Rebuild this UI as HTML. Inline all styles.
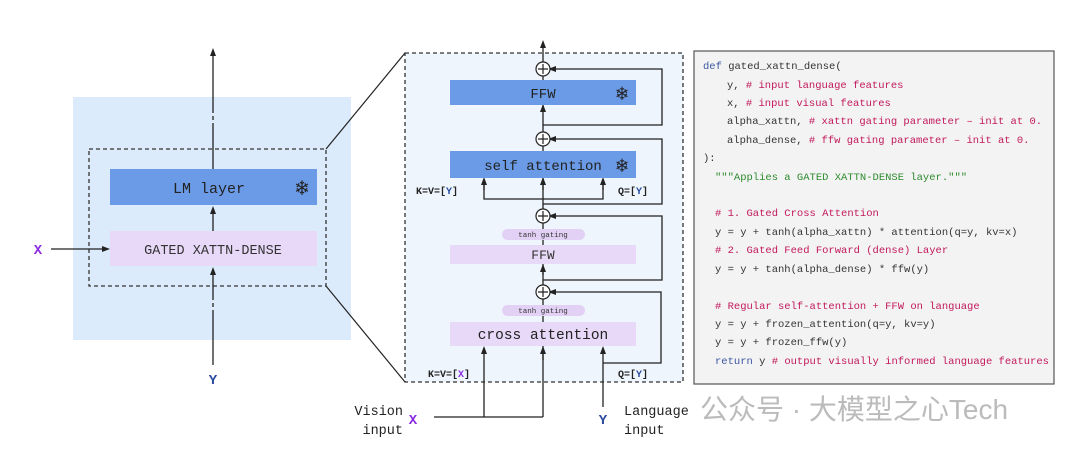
<!DOCTYPE html>
<html><head><meta charset="utf-8"><style>
body{margin:0;background:#fff;width:1080px;height:449px;overflow:hidden}
svg text{font-family:"Liberation Mono","DejaVu Sans Mono",monospace}
</style></head><body>
<svg width="1080" height="449" viewBox="0 0 1080 449" xmlns="http://www.w3.org/2000/svg">
<defs><marker id="a" markerWidth="8" markerHeight="8" refX="4" refY="4" orient="auto" markerUnits="userSpaceOnUse"><path d="M0,1 L8,4 L0,7 z" fill="#222"/></marker></defs>
<!-- left -->
<rect x="73" y="97" width="278" height="243" fill="#dcebfb"/>
<rect x="89" y="149" width="237" height="137" fill="none" stroke="#333" stroke-dasharray="4,3" stroke-width="1.3"/>
<rect x="110" y="169" width="207" height="36" fill="#6b9be6"/>
<text x="209" y="193" font-size="15" text-anchor="middle" fill="#222">LM layer</text>
<text x="302" y="195" font-size="22" text-anchor="middle" fill="#222">❄</text>
<rect x="110" y="231" width="207" height="35" fill="#e8d9f8"/>
<text x="213" y="254" font-size="13.5" text-anchor="middle" fill="#333">GATED XATTN-DENSE</text>
<line x1="213" y1="128" x2="213" y2="52" stroke="#222" stroke-width="1.3" marker-end="url(#a)"/>
<line x1="213" y1="113" x2="213" y2="116" stroke="#dcebfb" stroke-width="3"/>
<line x1="213" y1="120" x2="213" y2="123" stroke="#dcebfb" stroke-width="3"/>
<line x1="213" y1="169" x2="213" y2="128" stroke="#222" stroke-width="1.3"/>
<line x1="213" y1="231" x2="213" y2="210" stroke="#222" stroke-width="1.3" marker-end="url(#a)"/>
<line x1="213" y1="365" x2="213" y2="271" stroke="#222" stroke-width="1.3" marker-end="url(#a)"/>
<line x1="213" y1="300" x2="213" y2="303" stroke="#dcebfb" stroke-width="3"/>
<line x1="213" y1="307" x2="213" y2="310" stroke="#dcebfb" stroke-width="3"/>
<line x1="51" y1="249" x2="106" y2="249" stroke="#222" stroke-width="1.3" marker-end="url(#a)"/>
<text x="38" y="254" font-size="14" font-weight="bold" text-anchor="middle" fill="#8a2be2">X</text>
<text x="213" y="384" font-size="14" font-weight="bold" text-anchor="middle" fill="#2a4aa0">Y</text>
<!-- zoom lines -->
<line x1="326" y1="149" x2="405" y2="53" stroke="#222" stroke-width="1.2"/>
<line x1="326" y1="286" x2="405" y2="382" stroke="#222" stroke-width="1.2"/>
<!-- middle -->
<rect x="405" y="53" width="278" height="329" fill="#eef5fd" stroke="#333" stroke-dasharray="4,3" stroke-width="1.3"/>
<g stroke="#222" stroke-width="1.3" fill="none">
<line x1="543" y1="62" x2="543" y2="44" marker-end="url(#a)"/>
<line x1="543" y1="139" x2="543" y2="76"/>
<line x1="543" y1="216" x2="543" y2="146"/>
<line x1="543" y1="292" x2="543" y2="223"/>
<line x1="543" y1="417" x2="543" y2="299"/>
<polyline points="543,125 662,125 662,69 552,69" marker-end="url(#a)"/>
<polyline points="543,204 662,204 662,139 552,139" marker-end="url(#a)"/>
<polyline points="543,280 662,280 662,216 552,216" marker-end="url(#a)"/>
<polyline points="603,363 661,363 661,292 552,292" marker-end="url(#a)"/>
<polyline points="484,184 484,199 603,199 603,184"/>
<line x1="484" y1="190" x2="484" y2="181" marker-end="url(#a)"/>
<line x1="603" y1="190" x2="603" y2="181" marker-end="url(#a)"/>
<line x1="543" y1="190" x2="543" y2="181" marker-end="url(#a)"/>
<line x1="543" y1="112" x2="543" y2="108" marker-end="url(#a)"/>
<line x1="543" y1="275" x2="543" y2="268" marker-end="url(#a)"/>
<polyline points="434,417 543,417"/>
<line x1="484" y1="417" x2="484" y2="350" marker-end="url(#a)"/>
<line x1="543" y1="360" x2="543" y2="350" marker-end="url(#a)"/>
<line x1="603" y1="407" x2="603" y2="350" marker-end="url(#a)"/>
</g>
<rect x="450" y="80" width="186" height="25" fill="#6b9be6"/>
<text x="543" y="98" font-size="14" text-anchor="middle" fill="#222">FFW</text>
<text x="622" y="100" font-size="20" text-anchor="middle" fill="#222">❄</text>
<rect x="450" y="151" width="186" height="27" fill="#6b9be6"/>
<text x="543" y="170" font-size="14" text-anchor="middle" fill="#222">self attention</text>
<text x="622" y="172" font-size="20" text-anchor="middle" fill="#222">❄</text>
<rect x="502" y="229" width="83" height="11" rx="5.5" fill="#e3d1f5"/>
<text x="543" y="237" font-size="7.5" text-anchor="middle" fill="#333">tanh gating</text>
<rect x="450" y="245" width="186" height="19" fill="#e8d9f8"/>
<text x="543" y="259" font-size="13" text-anchor="middle" fill="#333">FFW</text>
<rect x="502" y="305" width="83" height="11" rx="5.5" fill="#e3d1f5"/>
<text x="543" y="313" font-size="7.5" text-anchor="middle" fill="#333">tanh gating</text>
<rect x="450" y="322" width="186" height="24" fill="#e8d9f8"/>
<text x="543" y="339" font-size="14.5" text-anchor="middle" fill="#222">cross attention</text>
<g fill="#fff" stroke="#222" stroke-width="1.2">
<circle cx="543" cy="69" r="7"/><circle cx="543" cy="139" r="7"/><circle cx="543" cy="216" r="7"/><circle cx="543" cy="292" r="7"/>
</g>
<g stroke="#222" stroke-width="1.2">
<path d="M538,69h10M543,64v10M538,139h10M543,134v10M538,216h10M543,211v10M538,292h10M543,287v10"/>
</g>
<g font-size="10" font-weight="bold" fill="#222">
<text x="416" y="194">K=V=[<tspan fill="#2a4aa0">Y</tspan>]</text>
<text x="618" y="194">Q=[<tspan fill="#2a4aa0">Y</tspan>]</text>
<text x="428" y="377">K=V=[<tspan fill="#8a2be2">X</tspan>]</text>
<text x="618" y="377">Q=[<tspan fill="#2a4aa0">Y</tspan>]</text>
</g>
<text x="403" y="415" font-size="13.5" text-anchor="end" fill="#222">Vision</text>
<text x="403" y="434" font-size="13.5" text-anchor="end" fill="#222">input</text>
<text x="413" y="424" font-size="14" font-weight="bold" text-anchor="middle" fill="#8a2be2">X</text>
<text x="603" y="424" font-size="14" font-weight="bold" text-anchor="middle" fill="#2a4aa0">Y</text>
<text x="624" y="415" font-size="13.5" fill="#222">Language</text>
<text x="624" y="434" font-size="13.5" fill="#222">input</text>
<!-- code -->
<rect x="694" y="51" width="360" height="333" fill="#f3f3f3" stroke="#555" stroke-width="1.2"/>
<g font-size="10.5" fill="#333">
<text x="703" y="69"><tspan fill="#3b55a0">def</tspan> gated_xattn_dense(</text>
<text x="727" y="88">y,  <tspan fill="#c2185b"># input language features</tspan></text>
<text x="727" y="106">x,  <tspan fill="#c2185b"># input visual features</tspan></text>
<text x="727" y="124">alpha_xattn, <tspan fill="#c2185b"># xattn gating parameter – init at 0.</tspan></text>
<text x="727" y="143">alpha_dense, <tspan fill="#c2185b"># ffw gating parameter – init at 0.</tspan></text>
<text x="703" y="161">):</text>
<text x="715" y="180" fill="#2e8b2e">"""Applies a GATED XATTN-DENSE layer."""</text>
<text x="715" y="216" fill="#c2185b"># 1. Gated Cross Attention</text>
<text x="715" y="235">y = y + tanh(alpha_xattn) * attention(q=y, kv=x)</text>
<text x="715" y="253" fill="#c2185b"># 2. Gated Feed Forward (dense) Layer</text>
<text x="715" y="272">y = y + tanh(alpha_dense) * ffw(y)</text>
<text x="715" y="309" fill="#c2185b"># Regular self-attention + FFW on language</text>
<text x="715" y="327">y = y + frozen_attention(q=y, kv=y)</text>
<text x="715" y="345">y = y + frozen_ffw(y)</text>
<text x="715" y="364"><tspan fill="#3b55a0">return</tspan> y  <tspan fill="#c2185b"># output visually informed language features</tspan></text>
</g>
<text x="700" y="419" font-size="28" fill="#bbb" style="font-family:'Liberation Sans','Noto Sans CJK SC',sans-serif">公众号 · 大模型之心Tech</text>
</svg>
</body></html>
